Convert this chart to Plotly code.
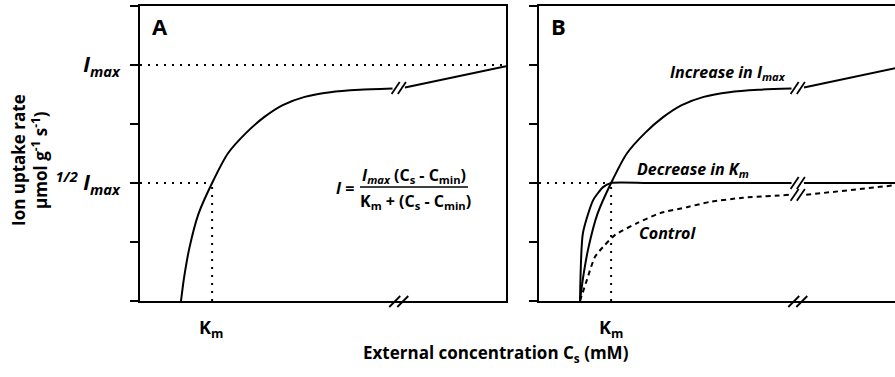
import plotly.graph_objects as go

# ---------------- data (x: concentration units, panel width 10; y: uptake units, I_max = 4) -------------
C_MIN = 1.12
KM_X = 1.97
HALF_IMAX = 2.0
IMAX = 4.0
BREAK_X = 7.07
X_END = 10.0

# Curve in panel A (same as "Increase in I_max" in panel B)
imax_x = [1.12, 1.2, 1.35, 1.6, 1.97, 2.4, 2.9, 3.4, 3.9, 4.5, 5.2, 6.0, 6.9]
imax_y = [0.0, 0.38, 0.9, 1.48, 2.0, 2.5, 2.85, 3.12, 3.32, 3.46, 3.54, 3.58, 3.6]
imax_tail_x = [7.24, 10.0]
imax_tail_y = [3.62, 3.98]

# Panel B: "Decrease in K_m"
kmdec_x = [1.12, 1.2, 1.48, 1.75, 1.97, 3.0, 6.9]
kmdec_y = [0.0, 1.15, 1.71, 1.93, 2.0, 2.0, 2.0]
kmdec_tail_x = [7.24, 10.0]
kmdec_tail_y = [2.0, 2.0]

# Panel B: "Control"
control_x = [1.12, 1.31, 1.53, 1.8, 2.08, 2.68, 3.31, 4.04, 4.67, 5.57, 6.86]
control_y = [0.0, 0.36, 0.75, 0.95, 1.12, 1.32, 1.49, 1.59, 1.68, 1.75, 1.8]
control_tail_x = [7.3, 10.0]
control_tail_y = [1.8, 1.98]

y_ticks = [0, 1, 2, 3, 4, 5]
y_ticktext = ["", "", "<i><sup>1/2</sup> I<sub>max</sub></i>", "", "<i>I<sub>max</sub></i>", ""]

# ---------------- layout geometry ----------------
W, H = 895, 377
XA = (140, 506)
XB = (539, 895)
YP = (301, 6)
PX_PER_X = (XA[1] - XA[0]) / X_END
RANGE_B = (XB[1] - XB[0]) / PX_PER_X

def px(x):
    return x / W

def py(y):
    return (H - y) / H

FONT = "Open Sans"
BLACK = "#000000"
LW = 2

fig = go.Figure()

def line(xs, ys, xa, ya, dash="solid", width=LW):
    fig.add_trace(go.Scatter(x=xs, y=ys, xaxis=xa, yaxis=ya, mode="lines",
                             line=dict(color=BLACK, width=width, dash=dash, shape="spline", smoothing=0.6),
                             showlegend=False, hoverinfo="skip"))

DOT = "2px,6px"
# Panel A
line(imax_x, imax_y, "x", "y")
line(imax_tail_x, imax_tail_y, "x", "y")
line([0, X_END], [IMAX, IMAX], "x", "y", dash=DOT)
line([0, KM_X], [HALF_IMAX, HALF_IMAX], "x", "y", dash=DOT)
line([KM_X, KM_X], [0, HALF_IMAX], "x", "y", dash=DOT)

# Panel B
line(imax_x, imax_y, "x2", "y2")
line(imax_tail_x, imax_tail_y, "x2", "y2")
line(kmdec_x, kmdec_y, "x2", "y2")
line(kmdec_tail_x, kmdec_tail_y, "x2", "y2")
line(control_x, control_y, "x2", "y2", dash="5px,4px")
line(control_tail_x, control_tail_y, "x2", "y2", dash="5px,4px")
line([0, KM_X], [HALF_IMAX, HALF_IMAX], "x2", "y2", dash=DOT)
line([KM_X, KM_X], [0, HALF_IMAX], "x2", "y2", dash=DOT)

shapes = []

def breakmark(xref, yref, xc, yc, dx=0.11, dy=0.1, gap=0.17):
    for off in (-gap / 2, gap / 2):
        shapes.append(dict(type="line", xref=xref, yref=yref,
                           x0=xc + off - dx, y0=yc - dy, x1=xc + off + dx, y1=yc + dy,
                           line=dict(color=BLACK, width=1.8)))

breakmark("x", "y", BREAK_X, 3.61)
breakmark("x2", "y2", BREAK_X, 2.0)
breakmark("x2", "y2", BREAK_X, 1.8)
breakmark("x2", "y2", BREAK_X, 3.61)

# x-axis break marks (paper y)
for xr in ("x", "x2"):
    for off in (-0.11, 0.11):
        shapes.append(dict(type="line", xref=xr, yref="paper",
                           x0=BREAK_X + off - 0.15, y0=py(307), x1=BREAK_X + off + 0.15, y1=py(296),
                           line=dict(color=BLACK, width=1.8)))

# fraction bar
shapes.append(dict(type="line", xref="paper", yref="paper", x0=px(360), x1=px(468), y0=py(187), y1=py(187),
                   line=dict(color=BLACK, width=1.5)))

annotations = []

def ann(text, x, y, size=14, xanchor="center", yanchor="middle", angle=0, italic=False):
    annotations.append(dict(text=text, x=px(x), y=py(y), xref="paper", yref="paper", showarrow=False,
                            xanchor=xanchor, yanchor=yanchor, textangle=angle,
                            font=dict(family=FONT, size=size, color=BLACK, weight="bold",
                                      style="italic" if italic else "normal")))

ann("A", 160, 26, size=22)
ann("B", 558, 26, size=22)
ann("K<sub>m</sub>", 211, 328, size=18)
ann("K<sub>m</sub>", 611, 328, size=18)
ann("External concentration C<sub>s</sub> (mM)", 496, 353, size=17)
ann("Ion uptake rate<br>µmol g<sup>-1</sup> s<sup>-1</sup>)", 29, 160, size=17, angle=-90)
ann("<i>I</i> =", 345, 188, size=16)
ann("<i>I<sub>max</sub></i> (C<sub>s</sub> - C<sub>min</sub>)", 414, 175, size=16)
ann("K<sub>m</sub> + (C<sub>s</sub> - C<sub>min</sub>)", 415, 201, size=16)
ann("Increase in I<sub>max</sub>", 728, 73, size=16, italic=True)
ann("Decrease in K<sub>m</sub>", 693, 169, size=16, italic=True)
ann("Control", 667, 233, size=16, italic=True)

yaxis_common = dict(range=[0, 5], tickvals=y_ticks, ticks="outside", ticklen=8, tickwidth=LW,
                    tickcolor=BLACK, showline=True, linewidth=LW, linecolor=BLACK, showgrid=False,
                    zeroline=False, fixedrange=True, domain=[py(YP[0]), py(YP[1])])

fig.update_layout(
    width=W, height=H, autosize=False,
    margin=dict(l=0, r=0, t=0, b=0),
    paper_bgcolor="white", plot_bgcolor="white",
    font=dict(family=FONT, color=BLACK),
    xaxis=dict(domain=[px(XA[0]), px(XA[1])], range=[0, X_END], showticklabels=False, ticks="",
               showline=True, mirror=True, linewidth=LW, linecolor=BLACK, showgrid=False,
               zeroline=False, anchor="y"),
    yaxis=dict(**yaxis_common, anchor="x", mirror=True, ticktext=y_ticktext, ticklabelstandoff=6,
               tickfont=dict(family=FONT, size=21, color=BLACK, weight="bold")),
    xaxis2=dict(domain=[px(XB[0]), 1.0], range=[0, RANGE_B], showticklabels=False, ticks="",
                showline=True, mirror=True, linewidth=LW, linecolor=BLACK, showgrid=False,
                zeroline=False, anchor="y2"),
    yaxis2=dict(**yaxis_common, anchor="x2", showticklabels=False),
    shapes=shapes,
    annotations=annotations,
)

fig.write_html("out.html", config={"displayModeBar": False, "staticPlot": True},
               post_script="document.body.style.margin='0';document.body.style.padding='0';")
